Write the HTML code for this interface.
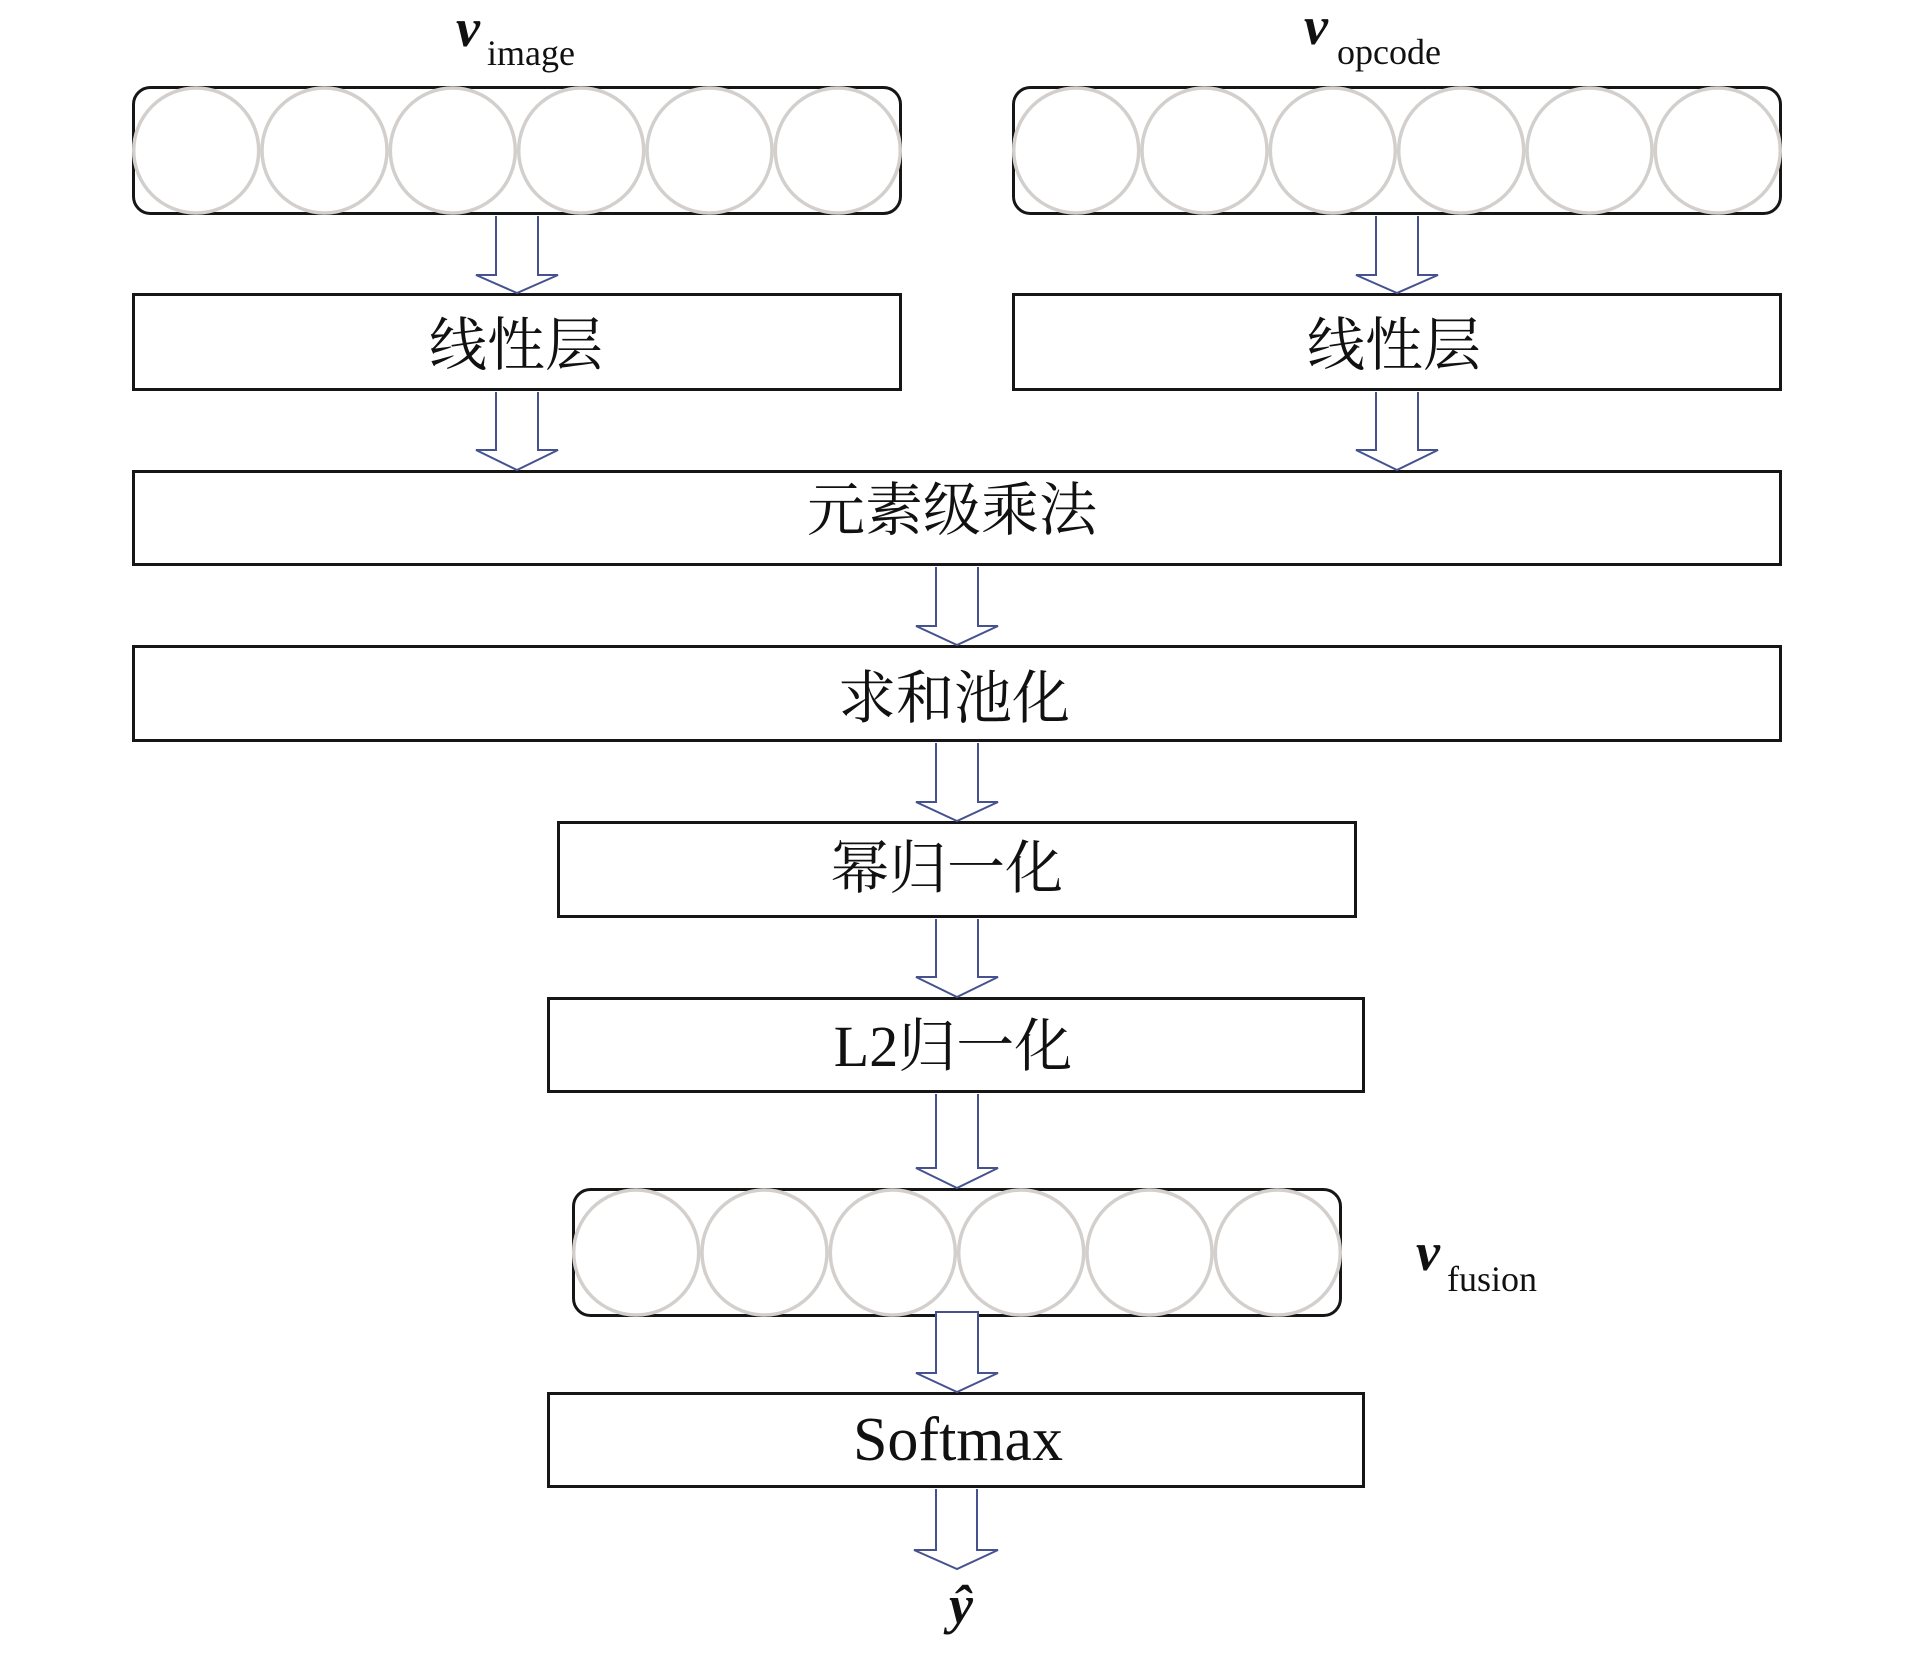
<!DOCTYPE html>
<html>
<head>
<meta charset="utf-8">
<style>
  html, body { margin: 0; padding: 0; background: #ffffff; }
  body { width: 1913px; height: 1654px; overflow: hidden; }
  svg { display: block; }
  .cjk { font-family: "Liberation Serif", "Noto Serif CJK SC", serif; fill: #111; }
  .lat { font-family: "Liberation Serif", serif; fill: #111; }
</style>
</head>
<body>
<svg width="1913" height="1654" viewBox="0 0 1913 1654" xmlns="http://www.w3.org/2000/svg">
  <rect x="0" y="0" width="1913" height="1654" fill="#ffffff"/>

  <!-- Vector boxes -->
  <g fill="#ffffff" stroke="#161616" stroke-width="3">
    <rect x="133.5" y="87.5" width="767" height="126" rx="17" ry="17"/>
    <rect x="1013.5" y="87.5" width="767" height="126" rx="17" ry="17"/>
    <rect x="573.5" y="1189.5" width="767" height="126" rx="17" ry="17"/>
  </g>

  <!-- Circles -->
  <g fill="none" stroke="#d3cfcc" stroke-width="3.5">
    <circle cx="196.2" cy="150.5" r="62.5"/>
    <circle cx="324.5" cy="150.5" r="62.5"/>
    <circle cx="452.8" cy="150.5" r="62.5"/>
    <circle cx="581.2" cy="150.5" r="62.5"/>
    <circle cx="709.5" cy="150.5" r="62.5"/>
    <circle cx="837.8" cy="150.5" r="62.5"/>

    <circle cx="1076.2" cy="150.5" r="62.5"/>
    <circle cx="1204.5" cy="150.5" r="62.5"/>
    <circle cx="1332.8" cy="150.5" r="62.5"/>
    <circle cx="1461.2" cy="150.5" r="62.5"/>
    <circle cx="1589.5" cy="150.5" r="62.5"/>
    <circle cx="1717.8" cy="150.5" r="62.5"/>

    <circle cx="636.2" cy="1252.5" r="62.5"/>
    <circle cx="764.5" cy="1252.5" r="62.5"/>
    <circle cx="892.8" cy="1252.5" r="62.5"/>
    <circle cx="1021.2" cy="1252.5" r="62.5"/>
    <circle cx="1149.5" cy="1252.5" r="62.5"/>
    <circle cx="1277.8" cy="1252.5" r="62.5"/>
  </g>

  <!-- Rect boxes -->
  <g fill="#ffffff" stroke="#161616" stroke-width="3">
    <rect x="133.5" y="294.5" width="767" height="95"/>
    <rect x="1013.5" y="294.5" width="767" height="95"/>
    <rect x="133.5" y="471.5" width="1647" height="93"/>
    <rect x="133.5" y="646.5" width="1647" height="94"/>
    <rect x="558.5" y="822.5" width="797" height="94"/>
    <rect x="548.5" y="998.5" width="815" height="93"/>
    <rect x="548.5" y="1393.5" width="815" height="93"/>
  </g>

  <!-- Arrows (hollow block arrows) -->
  <g fill="#ffffff" stroke="#46528f" stroke-width="2" stroke-linejoin="miter">
    <path d="M496,216 L496,275 L476,275 L517,293 L558,275 L538,275 L538,216"/>
    <path d="M496,392 L496,450 L476,450 L517,470 L558,450 L538,450 L538,392"/>
    <path d="M1376,216 L1376,275 L1356,275 L1397,293 L1438,275 L1418,275 L1418,216"/>
    <path d="M1376,392 L1376,450 L1356,450 L1397,470 L1438,450 L1418,450 L1418,392"/>
    <path d="M936,567 L936,626 L916,626 L957,645 L998,626 L978,626 L978,567"/>
    <path d="M936,743 L936,802 L916,802 L957,821 L998,802 L978,802 L978,743"/>
    <path d="M936,919 L936,977 L916,977 L957,997 L998,977 L978,977 L978,919"/>
    <path d="M936,1094 L936,1168 L916,1168 L957,1188 L998,1168 L978,1168 L978,1094"/>
    <path d="M936,1312 L936,1373 L916,1373 L957,1392 L998,1373 L978,1373 L978,1312 Z"/>
    <path d="M936,1489 L936,1550 L914,1550 L957,1569 L998,1550 L977,1550 L977,1489"/>
  </g>

  <!-- Box labels -->
  <g class="cjk" font-size="58" text-anchor="middle">
    <text x="516" y="365">线性层</text>
    <text x="1394" y="365">线性层</text>
    <text x="952" y="530">元素级乘法</text>
    <text x="954" y="718">求和池化</text>
    <text x="947" y="888">幂归一化</text>
    <text x="953" y="1066">L2归一化</text>
  </g>
  <text class="lat" x="958" y="1460" font-size="62" text-anchor="middle">Softmax</text>

  <!-- Vector labels -->
  <text class="lat" x="456" y="46" font-size="54" font-weight="bold" font-style="italic">v</text>
  <text class="lat" x="487" y="65" font-size="36">image</text>

  <text class="lat" x="1304" y="44" font-size="54" font-weight="bold" font-style="italic">v</text>
  <text class="lat" x="1337" y="64" font-size="36">opcode</text>

  <text class="lat" x="1416" y="1270" font-size="54" font-weight="bold" font-style="italic">v</text>
  <text class="lat" x="1447" y="1291" font-size="36">fusion</text>

  <!-- Output -->
  <text class="lat" x="961" y="1623" font-size="54" font-weight="bold" font-style="italic" text-anchor="middle">ŷ</text>
</svg>
</body>
</html>
